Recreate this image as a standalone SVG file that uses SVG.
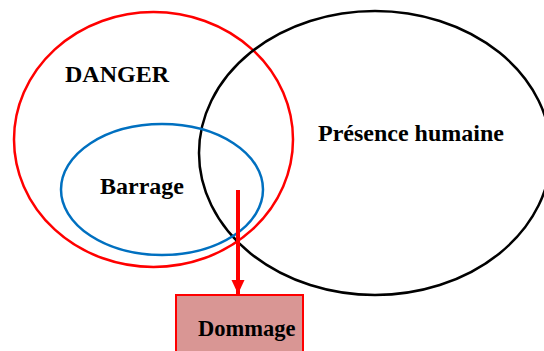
<svg xmlns="http://www.w3.org/2000/svg" width="544" height="351" viewBox="0 0 544 351">
  <style>
    .lbl { font-family: "Liberation Serif", "Times New Roman", serif; font-weight: bold; fill: #000; }
    .ring { fill: none; stroke-width: 2.5; }
  </style>
  <defs>
    <marker id="head" markerWidth="15" markerHeight="14" refX="14" refY="7" orient="auto" markerUnits="userSpaceOnUse">
      <path d="M0,0.5 L14,7 L0,13.5 Z" fill="#ff0000"/>
    </marker>
  </defs>
  <rect width="544" height="351" fill="#ffffff"/>

  <g id="danger">
    <ellipse class="ring" cx="153.5" cy="139.5" rx="139.5" ry="127.5" stroke="#ff0000"/>
    <text class="lbl" x="65" y="82" font-size="24">DANGER</text>
  </g>

  <g id="presence">
    <ellipse class="ring" cx="375" cy="153" rx="176" ry="142" stroke="#000000" stroke-width="3"/>
    <text class="lbl" x="318" y="141" font-size="24">Présence humaine</text>
  </g>

  <g id="barrage">
    <ellipse class="ring" cx="162" cy="189.5" rx="101" ry="65.5" stroke="#0070c0"/>
    <text class="lbl" x="100" y="194" font-size="24">Barrage</text>
  </g>

  <g id="dommage">
    <rect x="176" y="295" width="127" height="60" fill="#d99694" stroke="#ff0000" stroke-width="2"/>
    <text class="lbl" x="198" y="336" font-size="22.5">Dommage</text>
  </g>

  <g id="connectors">
    <line x1="238" y1="190" x2="238" y2="294" stroke="#ff0000" stroke-width="4" marker-end="url(#head)"/>
  </g>
</svg>
